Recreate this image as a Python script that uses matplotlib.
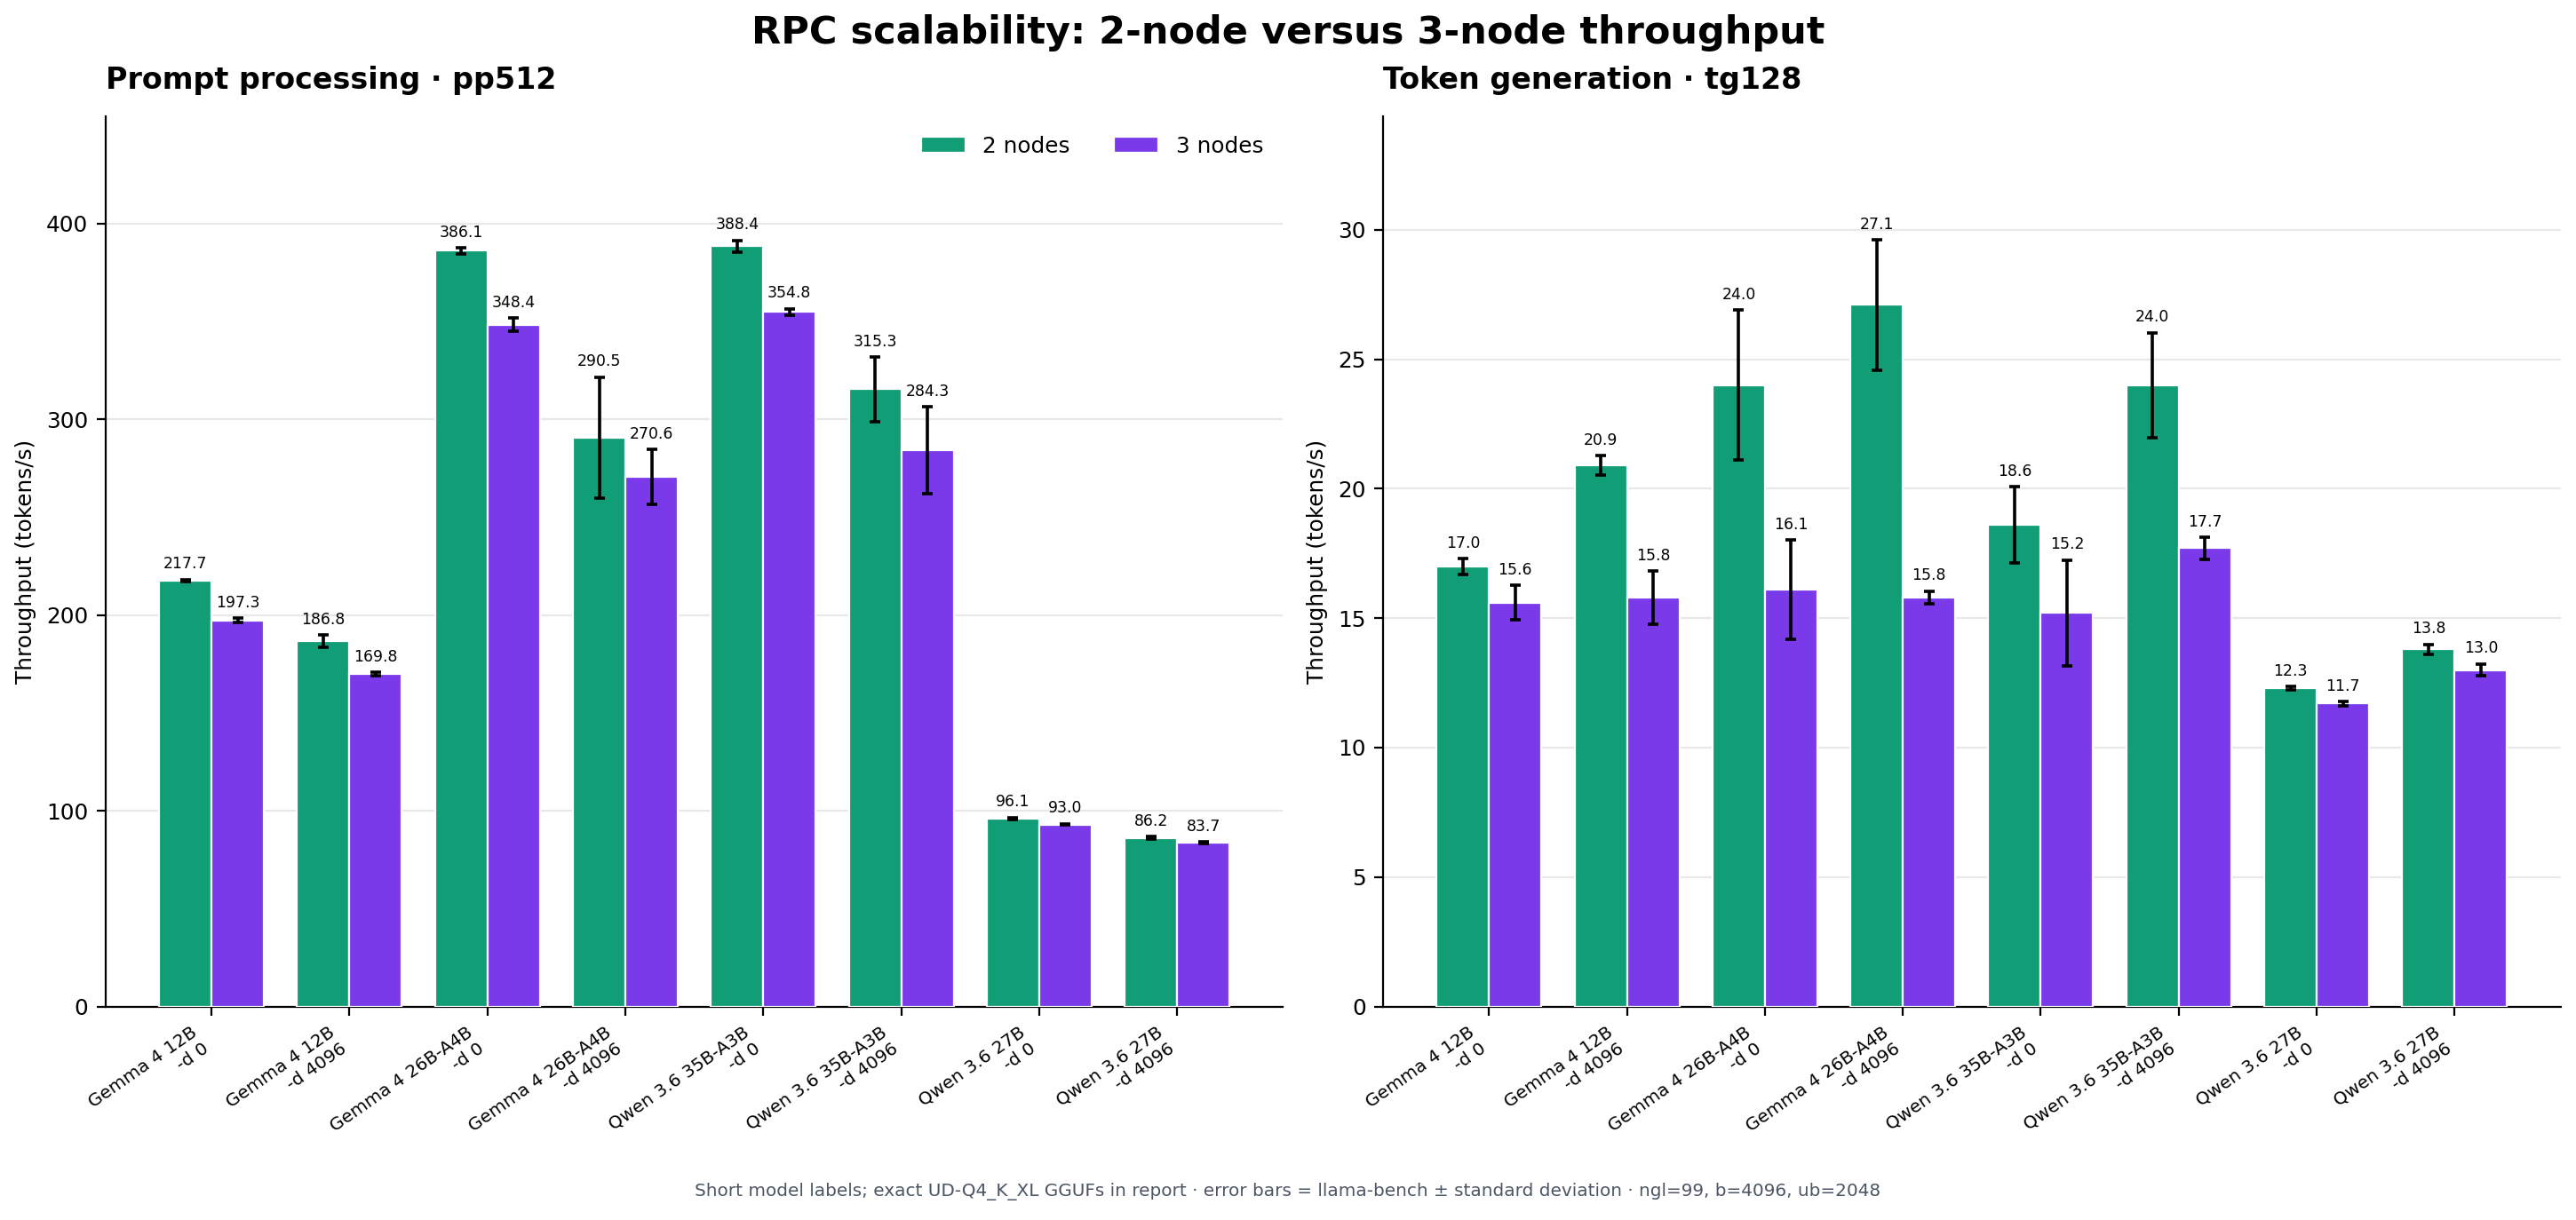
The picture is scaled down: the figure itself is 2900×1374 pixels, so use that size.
import numpy as np
import matplotlib
matplotlib.use("Agg")
import matplotlib.pyplot as plt

models = ["Gemma 4 12B\n-d 0", "Gemma 4 12B\n-d 4096",
          "Gemma 4 26B-A4B\n-d 0", "Gemma 4 26B-A4B\n-d 4096",
          "Qwen 3.6 35B-A3B\n-d 0", "Qwen 3.6 35B-A3B\n-d 4096",
          "Qwen 3.6 27B\n-d 0", "Qwen 3.6 27B\n-d 4096"]

pp_2 = [217.7, 186.8, 386.1, 290.5, 388.4, 315.3, 96.1, 86.2]
pp_2_std = [0.5, 3.1, 1.5, 31.0, 3.0, 16.4, 0.5, 0.5]
pp_3 = [197.3, 169.8, 348.4, 270.6, 354.8, 284.3, 93.0, 83.7]
pp_3_std = [1.1, 1.0, 3.4, 13.9, 1.7, 22.1, 0.4, 0.4]

tg_2 = [17.0, 20.9, 24.0, 27.1, 18.6, 24.0, 12.3, 13.8]
tg_2_std = [0.3, 0.37, 2.9, 2.52, 1.47, 2.03, 0.07, 0.19]
tg_3 = [15.6, 15.8, 16.1, 15.8, 15.2, 17.7, 11.7, 13.0]
tg_3_std = [0.67, 1.02, 1.92, 0.25, 2.05, 0.43, 0.08, 0.23]

green = "#119e77"
purple = "#7b3aea"

fig, axes = plt.subplots(1, 2, figsize=(14.5, 6.87), dpi=200)
fig.subplots_adjust(left=0.041, right=0.994, bottom=0.175, top=0.905, wspace=0.085)

panels = [
    (axes[0], "Prompt processing · pp512", pp_2, pp_2_std, pp_3, pp_3_std, 455),
    (axes[1], "Token generation · tg128", tg_2, tg_2_std, tg_3, tg_3_std, 34.4),
]

x = np.arange(len(models))
w = 0.38
for ax, title, a, a_err, b, b_err, top in panels:
    ek = dict(ecolor="black", elinewidth=1.3, capsize=2.2, capthick=1.3)
    ax.bar(x - w / 2, a, w, yerr=a_err, color=green, edgecolor="white",
           linewidth=0.8, label="2 nodes", error_kw=ek, zorder=3)
    ax.bar(x + w / 2, b, w, yerr=b_err, color=purple, edgecolor="white",
           linewidth=0.8, label="3 nodes", error_kw=ek, zorder=3)
    for xs, vals, errs in [(x - w / 2, a, a_err), (x + w / 2, b, b_err)]:
        for xi, v, e in zip(xs, vals, errs):
            ax.annotate(f"{v:.1f}", (xi, v + e), xytext=(0, 3),
                        textcoords="offset points", ha="center", va="bottom",
                        fontsize=6.2)
    ax.set_ylim(0, top)
    ax.set_xticks(x)
    ax.set_xticklabels(models, rotation=35, ha="right", fontsize=7.2)
    ax.set_ylabel("Throughput (tokens/s)", fontsize=8.9)
    ax.tick_params(axis="y", labelsize=8.9)
    ax.set_title(title, loc="left", fontsize=12, fontweight="bold", pad=11)
    ax.grid(axis="y", color="#e8e8e8", linewidth=0.8, zorder=0)
    ax.set_axisbelow(True)
    ax.spines["top"].set_visible(False)
    ax.spines["right"].set_visible(False)

axes[0].legend(loc="upper right", ncol=2, frameon=False, fontsize=8.9)

fig.suptitle("RPC scalability: 2-node versus 3-node throughput",
             fontsize=15.5, fontweight="bold", y=0.973, va="center")
fig.text(0.5, 0.023,
         "Short model labels; exact UD-Q4_K_XL GGUFs in report · error bars = llama-bench ± standard deviation · ngl=99, b=4096, ub=2048",
         ha="center", va="center", fontsize=7.2, color="#4b5563")

fig.savefig("out.png", dpi=200)
